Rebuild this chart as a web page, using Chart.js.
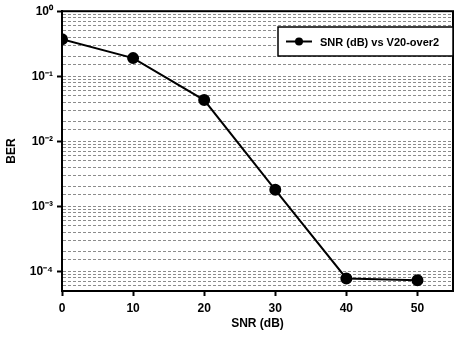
<!DOCTYPE html>
<html>
<head>
<meta charset="utf-8">
<script src="https://cdn.jsdelivr.net/npm/chart.js@4"></script>
<style>
  html, body { margin: 0; padding: 0; background: #fff; }
  #wrap { width: 460px; height: 343px; }
</style>
</head>
<body>
<div id="wrap"><canvas id="grafico"></canvas></div>
<script>
// datos
var snr = [0, 10, 20, 30, 40, 50];
var ber = [0.37, 0.19, 0.043, 0.0018, 0.000078, 0.000073];
var xTicks = [0, 10, 20, 30, 40, 50];
var serieNombre = 'SNR (dB) vs V20-over2';

var sup = { '0': '\u2070', '1': '\u00b9', '2': '\u00b2', '3': '\u00b3', '4': '\u2074', '-': '\u207b' };
function decada(v) {
    var e = Math.log10(v);
    return Math.abs(e - Math.round(e)) < 1e-6;
}
function etiqueta(v) {
    var e = String(Math.round(Math.log10(v)));
    var s = '';
    for (var i = 0; i < e.length; i++) s += sup[e[i]];
    return '10' + s;
}

// marco y leyenda dentro del area
const marco = {
    id: 'marco',
    afterDraw(chart) {
        const ctx = chart.ctx, a = chart.chartArea;
        ctx.save();
        ctx.setLineDash([]);
        ctx.strokeStyle = '#000';
        ctx.lineWidth = 2;
        ctx.strokeRect(a.left, a.top, a.right - a.left, a.bottom - a.top);

        // leyenda
        var bx = 278, by = 27, bw = 175, bh = 29;
        ctx.fillStyle = '#fff';
        ctx.fillRect(bx, by, bw, bh);
        ctx.lineWidth = 1.5;
        ctx.strokeRect(bx, by, bw, bh);
        ctx.beginPath();
        ctx.lineWidth = 2;
        ctx.moveTo(bx + 8, by + bh / 2);
        ctx.lineTo(bx + 34, by + bh / 2);
        ctx.stroke();
        ctx.beginPath();
        ctx.fillStyle = '#000';
        ctx.arc(bx + 21, by + bh / 2, 4, 0, Math.PI * 2);
        ctx.fill();
        ctx.font = 'bold 11px "Liberation Sans", Arial, sans-serif';
        ctx.textBaseline = 'middle';
        ctx.fillText(serieNombre, bx + 42, by + bh / 2 + 1);
        ctx.restore();
    }
};

var ctx = document.getElementById('grafico');
new Chart(ctx, {
    type: 'line',
    data: {
        datasets: [{
            label: serieNombre,
            data: snr.map(function (x, i) { return { x: x, y: ber[i] }; }),
            borderColor: '#000',
            backgroundColor: '#000',
            borderWidth: 2,
            pointRadius: 5,
            pointHoverRadius: 5,
            tension: 0
        }]
    },
    options: {
        responsive: true,
        maintainAspectRatio: false,
        animation: false,
        events: [],
        layout: { padding: { top: 11, right: 5, left: 0, bottom: 0 } },
        plugins: {
            legend: { display: false },
            tooltip: { enabled: false }
        },
        scales: {
            x: {
                type: 'linear',
                min: 0,
                max: 55,
                afterBuildTicks: function (scale) {
                    scale.ticks = xTicks.map(function (v) { return { value: v }; });
                },
                afterFit: function (scale) { scale.height = 52; },
                grid: {
                    drawOnChartArea: false,
                    tickLength: 5,
                    tickColor: '#000',
                    tickWidth: 2
                },
                border: { color: '#000', width: 2 },
                ticks: {
                    color: '#000',
                    padding: 5,
                    maxRotation: 0,
                    font: { family: '"Liberation Sans", Arial, sans-serif', size: 12, weight: 'bold' }
                },
                title: {
                    display: true,
                    text: 'SNR (dB)',
                    color: '#000',
                    padding: { top: 4, bottom: 12 },
                    font: { family: '"Liberation Sans", Arial, sans-serif', size: 12, weight: 'bold' }
                }
            },
            y: {
                type: 'logarithmic',
                min: 0.00005,
                max: 1,
                afterFit: function (scale) { scale.width = 62; },
                grid: {
                    color: 'rgba(0,0,0,0.45)',
                    lineWidth: 1,
                    tickLength: 5,
                    tickWidth: 2,
                    tickColor: function (c) { return decada(c.tick.value) ? '#000' : 'rgba(0,0,0,0)'; }
                },
                border: { color: '#000', width: 2, dash: [3, 2] },
                ticks: {
                    autoSkip: false,
                    color: '#000',
                    padding: 4,
                    font: { family: '"Liberation Sans", Arial, sans-serif', size: 12, weight: 'bold' },
                    callback: function (v) { return decada(v) ? etiqueta(v) : ''; }
                },
                title: {
                    display: true,
                    text: 'BER',
                    color: '#000',
                    padding: { bottom: 2 },
                    font: { family: '"Liberation Sans", Arial, sans-serif', size: 12, weight: 'bold' }
                }
            }
        }
    },
    plugins: [marco]
});
</script>
</body>
</html>
